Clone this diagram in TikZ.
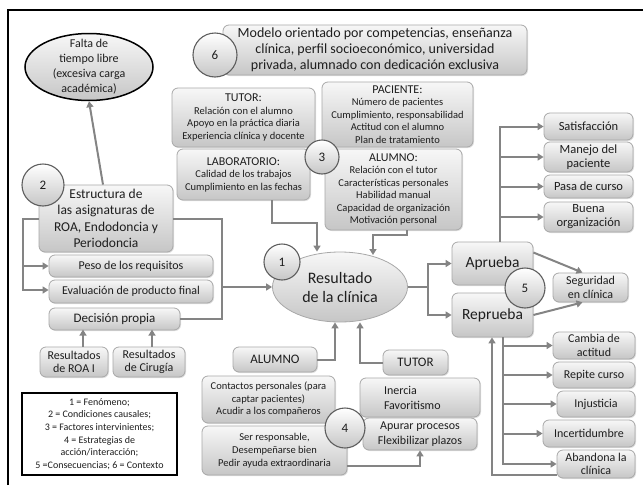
\documentclass[tikz,border=0pt]{standalone}
\usepackage{fontspec}
\setmainfont{Carlito}
\usepackage{tikz}
\usetikzlibrary{arrows.meta,shapes.geometric,shadows,calc}
\definecolor{boxtop}{HTML}{F7F7F7}
\definecolor{boxbot}{HTML}{C6C6C6}
\definecolor{edge}{HTML}{A8A8A8}
\definecolor{ring}{HTML}{5E5E5E}
\definecolor{wire}{HTML}{848484}
\definecolor{ink}{HTML}{1E1E1E}
\newcommand{\fsz}[2]{\fontsize{#1}{#2}\selectfont}
\tikzset{
  cbox/.style={draw=edge, line width=0.8pt, rounded corners=6pt, top color=boxtop, bottom color=boxbot,
    text=ink, align=center, inner sep=1pt, drop shadow={opacity=0.25, shadow xshift=1pt, shadow yshift=-1pt}},
  numc/.style={circle, draw=ring, line width=1.1pt, top color=white, bottom color=boxbot, text=ink,
    font=\fsz{13}{15}, inner sep=0pt},
  oval/.style={ellipse, top color=boxtop, bottom color=boxbot, inner sep=0pt},
  legbox/.style={draw=black, line width=1.3pt, fill=white, text=ink, align=center, inner sep=1pt},
  lab/.style={text=ink, align=center},
  plain/.style={draw=wire, line width=2pt},
  arr/.style={plain, -{Triangle[length=6pt,width=7pt]}}
}
\begin{document}
\begin{tikzpicture}[x=1pt,y=-1pt]
  \useasboundingbox (0,0) rectangle (643,485);
  \draw[line width=1.5pt] (8,485) -- (8,10) -- (643,10);

  % contexto
  \node[cbox, minimum width=304, minimum height=50, font=\fsz{14}{16}] (ctx) at (375,50)
    {Modelo orientado por competencias, enseñanza\\clínica, perfil socioeconómico, universidad\\privada, alumnado con dedicación exclusiva};
  \node[numc, minimum size=44] (c6) at (215,55) {6};

  \node[oval, draw=black, line width=1.5pt, minimum width=128, minimum height=67] (falta) at (89,67) {};
  \node[lab, font=\fsz{12}{15}] (faltat) at (falta.center) {Falta de\\tiempo libre\\(excesiva carga\\académica)};

  % factores intervinientes
  \node[cbox, minimum width=143, minimum height=59, font=\fsz{10.5}{12.5}] (tut) at (243.5,117.5)
    {{\fsz{12}{14}TUTOR:}\\Relación con el alumno\\Apoyo en la práctica diaria\\Experiencia clínica y docente};
  \node[cbox, minimum width=151, minimum height=65, font=\fsz{10.5}{12.5}] (pac) at (397.5,114.5)
    {{\fsz{12}{14}PACIENTE:}\\Número de pacientes\\Cumplimiento, responsabilidad\\Actitud con el alumno\\Plan de tratamiento};
  \node[cbox, minimum width=133, minimum height=51, font=\fsz{10.5}{12.5}] (lab) at (243.5,174.5)
    {{\fsz{12}{14}LABORATORIO:}\\Calidad de los trabajos\\Cumplimiento en las fechas};
  \node[cbox, minimum width=137, minimum height=81, font=\fsz{10.5}{12.5}] (alu) at (393.5,189.5)
    {{\fsz{12}{14}ALUMNO:}\\Relación con el tutor\\Características personales\\Habilidad manual\\Capacidad de organización\\Motivación personal};
  \node[numc, minimum size=34] (c3) at (322,157) {3};

  % condiciones causales
  \node[cbox, minimum width=134, minimum height=67, font=\fsz{13.5}{16.5}, inner sep=0pt] (estr) at (106,218.5)
    {Estructura de\\las asignaturas de\\ROA, Endodoncia y\\Periodoncia};
  \node[numc, minimum size=42] (c2) at (43,185) {2};
  \node[cbox, minimum width=164, minimum height=22, font=\fsz{12}{14}] (peso) at (131,266) {Peso de los requisitos};
  \node[cbox, minimum width=164, minimum height=23, font=\fsz{12}{14}] (eval) at (131,291.5) {Evaluación de producto final};
  \node[cbox, minimum width=131, minimum height=22, font=\fsz{13}{15}] (dec) at (114.5,319) {Decisión propia};
  \node[cbox, minimum width=68, minimum height=30, font=\fsz{12}{13.5}] (roa) at (74,362) {Resultados\\de ROA I};
  \node[cbox, minimum width=72, minimum height=30, font=\fsz{12}{13.5}] (cir) at (149,362) {Resultados\\de Cirugía};

  \node[legbox, minimum width=155, minimum height=82, font=\fsz{10}{12.7}] (leg) at (99.5,434)
    {1 = Fenómeno;\\2 = Condiciones causales;\\3 = Factores intervinientes;\\4 = Estrategias de\\acción/interacción;\\5 =Consecuencias; 6 = Contexto};

  % fenomeno
  \node[oval, draw=edge, line width=0.8pt, minimum width=135, minimum height=70, lab, font=\fsz{16}{19}] (res) at (340,287)
    {Resultado\\de la clínica};
  \node[numc, minimum size=36] (c1) at (282,262) {1};

  % consecuencias
  \node[cbox, minimum width=89, minimum height=27, font=\fsz{12.5}{14}] (sat) at (588.5,126.5) {Satisfacción};
  \node[cbox, minimum width=89, minimum height=30, font=\fsz{12.5}{14}] (man) at (588.5,157) {Manejo del\\paciente};
  \node[cbox, minimum width=89, minimum height=23, font=\fsz{12.5}{14}] (pasa) at (588.5,186.5) {Pasa de curso};
  \node[cbox, minimum width=89, minimum height=30, font=\fsz{12.5}{14}] (bue) at (588.5,217) {Buena\\organización};
  \node[cbox, minimum width=81, minimum height=43, font=\fsz{15.5}{18}] (apr) at (492.5,263.5) {Aprueba};
  \node[cbox, minimum width=81, minimum height=44, font=\fsz{15.5}{18}] (rep) at (492.5,315) {Reprueba};
  \node[numc, minimum size=40] (c5) at (525,288) {5};
  \node[cbox, minimum width=75, minimum height=29, font=\fsz{12}{13.5}] (seg) at (590.5,287.5) {Seguridad\\en clínica};
  \node[cbox, minimum width=82, minimum height=27, font=\fsz{12}{13.5}] (cam) at (594,345.5) {Cambia de\\actitud};
  \node[cbox, minimum width=82, minimum height=26, font=\fsz{12}{13.5}] (rpc) at (594,375) {Repite curso};
  \node[cbox, minimum width=78, minimum height=26, font=\fsz{12}{13.5}] (inj) at (596,404) {Injusticia};
  \node[cbox, minimum width=92, minimum height=27, font=\fsz{12}{13.5}] (inc) at (589,433.5) {Incertidumbre};
  \node[cbox, minimum width=78, minimum height=28, font=\fsz{12}{13.5}] (aba) at (596,464) {Abandona la\\clínica};

  % estrategias
  \node[cbox, minimum width=84, minimum height=25, font=\fsz{13}{15}] (al2) at (275,359.5) {ALUMNO};
  \node[cbox, minimum width=65, minimum height=25, font=\fsz{13}{15}] (tu2) at (415.5,362.5) {TUTOR};
  \node[cbox, minimum width=133, minimum height=47, font=\fsz{10.5}{12.5}] (con) at (268.5,399.5)
    {Contactos personales (para\\captar pacientes)\\Acudir a los compañeros};
  \node[cbox, minimum width=145, minimum height=49, font=\fsz{10.5}{13.3}] (ser) at (274.5,450.5)
    {Ser responsable,\\Desempeñarse bien\\Pedir ayuda extraordinaria};
  \node[cbox, minimum width=120, minimum height=39, font=\fsz{12}{15}, align=left, text width=72] (ine) at (420,397.5)
    {Inercia\\Favoritismo};
  \node[cbox, minimum width=114, minimum height=32, font=\fsz{12}{15}] (apu) at (420,434) {Apurar procesos\\Flexibilizar plazos};
  \node[numc, minimum size=40] (c4) at (345,428) {4};

  % conectores
  \coordinate (jl) at (23,218.5);
  \coordinate (jr) at (222,218.5);
  \coordinate (jlab) at (317,223);
  \coordinate (jal) at (373,255);
  \coordinate (jres) at (428,287);

  \draw[arr] ([xshift=-3pt]estr.north) -- (falta.south);
  \draw[arr] (estr.west) -- (jl) |- (peso.west);
  \draw[arr] (jl) |- ([yshift=1.5pt]eval.west);
  \draw[plain] (estr.east) -- (jr) |- (dec.east);
  \draw[arr] (jr |- res.west) -- (res.west);
  \draw[arr] ([xshift=9pt]roa.north) -- ++(0,-17);
  \draw[arr] ([xshift=3pt]cir.north) -- ++(0,-17);

  \draw[arr] ([xshift=28.5pt]lab.south) |- (jlab) -- (jlab |- res.north);
  \draw[arr] ([xshift=13.5pt]alu.south) -- ++(0,5) -| (jal);

  \draw[plain] (res.east) -- (jres);
  \draw[arr] (jres) |- (apr.west);
  \draw[arr] (jres) |- (rep.west);

  \draw[arr] ([xshift=7.5pt]apr.north) |- (sat.west);
  \draw[arr] ([xshift=7.5pt]apr.north) |- (man.west);
  \draw[arr] ([xshift=7.5pt]apr.north) |- (pasa.west);
  \draw[arr] ([xshift=7.5pt]apr.north) |- (bue.west);
  \draw[arr] ([yshift=11pt]apr.east) -- ([xshift=-8pt]seg.north);
  \draw[arr] (rep.east) -- ([xshift=-8pt]seg.south);

  \draw[arr] ([xshift=10.5pt]rep.south) |- (cam.west);
  \draw[arr] ([xshift=10.5pt]rep.south) |- (rpc.west);
  \draw[arr] ([xshift=10.5pt]rep.south) |- (inj.west);
  \draw[arr] ([xshift=10.5pt]rep.south) |- (inc.west);
  \draw[arr] ([xshift=10.5pt]rep.south) |- (aba.west);
  \draw[arr] ([yshift=-11pt]aba.west) -| ([xshift=-0.5pt]rep.south);

  \draw[arr] (al2.east) -| ([xshift=-5pt]res.south);
  \draw[arr] (tu2.west) -| ([xshift=20pt]res.south);
  \draw[arr] ([yshift=-15.5pt]ser.east) -| (apu.south);
\end{tikzpicture}
\end{document}
